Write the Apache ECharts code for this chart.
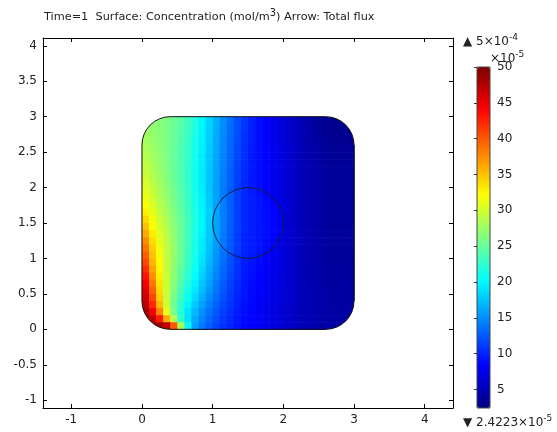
<!DOCTYPE html>
<html>
<head>
<meta charset="utf-8">
<script src="https://cdn.jsdelivr.net/npm/echarts@6/dist/echarts.min.js"></script>
<style>
html, body { margin: 0; padding: 0; background: #fff; }
#main { width: 557px; height: 432px; }
</style>
</head>
<body>
<div id="main"></div>
<script>
// cell centres of the sampled grid (x left->right, y top->bottom)
var xCells = [0.05, 0.15, 0.25, 0.35, 0.45, 0.55, 0.65, 0.75, 0.85, 0.95,
              1.05, 1.15, 1.25, 1.35, 1.45, 1.55, 1.65, 1.75, 1.85, 1.95,
              2.05, 2.15, 2.25, 2.35, 2.45, 2.55, 2.65, 2.75, 2.85, 2.95];
var yCells = [2.95, 2.85, 2.75, 2.65, 2.55, 2.45, 2.35, 2.25, 2.15, 2.05,
              1.95, 1.85, 1.75, 1.65, 1.55, 1.45, 1.35, 1.25, 1.15, 1.05,
              0.95, 0.85, 0.75, 0.65, 0.55, 0.45, 0.35, 0.25, 0.15, 0.05];

// concentration, units of 1e-5 mol/m^3, one row per yCells entry
var conc = [
  [27.0,26.8,26.5,26.0,25.3,24.4,23.2,21.7,20.0,18.3,16.6,15.0,13.5,12.1,10.9, 9.8,9.0,8.3,7.6,6.9,6.2,5.5,4.9,4.3,3.8,3.4,3.2,3.1,3.2,3.4],
  [27.3,27.0,26.6,26.0,25.2,24.3,23.1,21.6,19.9,18.2,16.5,14.9,13.4,12.0,10.8, 9.8,9.0,8.3,7.6,6.9,6.2,5.5,4.9,4.3,3.8,3.4,3.2,3.1,3.2,3.4],
  [27.6,27.2,26.7,26.0,25.2,24.2,23.0,21.5,19.8,18.1,16.4,14.8,13.3,11.9,10.7, 9.7,9.0,8.3,7.6,6.9,6.2,5.6,5.0,4.4,3.9,3.5,3.3,3.2,3.3,3.5],
  [27.9,27.4,26.8,26.0,25.1,24.1,22.9,21.4,19.7,18.0,16.3,14.7,13.2,11.8,10.6, 9.7,9.0,8.3,7.6,6.9,6.3,5.6,5.0,4.5,4.0,3.6,3.4,3.3,3.4,3.5],
  [28.3,27.6,26.9,26.0,25.0,24.0,22.8,21.3,19.6,17.9,16.2,14.6,13.1,11.7,10.5, 9.6,8.9,8.3,7.6,7.0,6.3,5.7,5.1,4.6,4.1,3.7,3.5,3.4,3.5,3.6],
  [28.6,27.8,27.0,26.0,25.0,23.9,22.7,21.2,19.5,17.8,16.1,14.5,13.0,11.6,10.5, 9.6,8.9,8.3,7.7,7.0,6.4,5.7,5.1,4.6,4.2,3.8,3.6,3.5,3.5,3.7],
  [29.0,28.1,27.1,26.1,25.0,23.9,22.6,21.1,19.5,17.8,16.1,14.5,12.9,11.5,10.4, 9.5,8.9,8.3,7.7,7.1,6.4,5.8,5.2,4.7,4.3,3.9,3.7,3.6,3.6,3.7],
  [29.4,28.4,27.3,26.2,25.1,23.9,22.6,21.1,19.4,17.7,16.0,14.4,12.8,11.4,10.3, 9.5,8.9,8.3,7.7,7.1,6.4,5.8,5.2,4.7,4.3,4.0,3.8,3.7,3.7,3.8],
  [29.8,28.7,27.5,26.4,25.2,24.0,22.6,21.1,19.4,17.7,16.0,14.3,12.8,11.4,10.3, 9.5,8.9,8.3,7.7,7.1,6.4,5.8,5.2,4.7,4.3,4.0,3.8,3.7,3.7,3.8],
  [30.3,29.1,27.8,26.6,25.4,24.1,22.7,21.1,19.4,17.7,15.9,14.2,12.7,11.3,10.2, 9.5,8.9,8.3,7.7,7.1,6.4,5.8,5.2,4.7,4.3,4.0,3.8,3.7,3.7,3.8],
  [30.8,29.5,28.1,26.9,25.6,24.2,22.8,21.2,19.5,17.7,15.9,14.2,12.7,11.3,10.2, 9.6,9.1,8.3,7.7,7.1,6.4,5.8,5.2,4.7,4.3,4.0,3.8,3.7,3.7,3.8],
  [31.4,29.9,28.5,27.1,25.8,24.4,22.9,21.3,19.6,17.8,16.0,14.2,12.7,11.3,10.2, 9.7,9.2,8.7,7.7,7.1,6.4,5.8,5.2,4.7,4.3,4.0,3.8,3.7,3.7,3.8],
  [32.1,30.4,28.9,27.4,26.0,24.6,23.1,21.4,19.7,17.9,16.0,14.3,12.7,11.3,10.2, 9.7,9.3,8.8,8.4,7.2,6.5,5.8,5.2,4.7,4.3,4.0,3.8,3.7,3.7,3.8],
  [32.9,31.0,29.3,27.8,26.3,24.8,23.2,21.6,19.8,18.0,16.1,14.3,12.7,11.3,10.2, 9.7,9.3,8.9,8.5,8.1,6.5,5.8,5.2,4.7,4.3,4.0,3.8,3.7,3.7,3.8],
  [33.8,31.6,29.8,28.1,26.6,25.0,23.4,21.7,19.9,18.0,16.1,14.3,12.7,11.3,10.2, 9.7,9.3,8.9,8.5,8.1,6.5,5.8,5.2,4.7,4.3,4.0,3.8,3.7,3.7,3.8],
  [35.0,32.3,30.3,28.5,26.7,25.0,23.3,21.6,19.8,17.9,16.0,14.3,12.7,11.3,10.2, 9.7,9.3,8.9,8.5,8.1,6.5,5.8,5.2,4.7,4.3,4.0,3.8,3.7,3.7,3.8],
  [36.2,33.0,30.7,28.8,26.9,25.1,23.3,21.5,19.7,17.8,15.9,14.2,12.6,11.2,10.1, 9.7,9.3,8.9,8.5,8.1,6.5,5.8,5.2,4.7,4.3,4.0,3.8,3.7,3.7,3.8],
  [37.5,33.7,31.1,29.0,27.1,25.2,23.3,21.4,19.5,17.6,15.7,14.0,12.5,11.1,10.1, 9.7,9.3,8.8,8.4,7.2,6.5,5.8,5.2,4.7,4.3,4.0,3.8,3.7,3.7,3.8],
  [38.7,34.4,31.5,29.2,27.2,25.2,23.2,21.3,19.4,17.4,15.5,13.8,12.4,11.0,10.0, 9.7,9.2,8.7,7.7,7.1,6.4,5.8,5.2,4.7,4.3,4.0,3.8,3.7,3.7,3.8],
  [39.8,35.0,31.8,29.3,27.2,25.1,23.1,21.1,19.2,17.2,15.3,13.7,12.2,10.9, 9.9, 9.6,9.1,8.3,7.7,7.1,6.4,5.8,5.2,4.7,4.3,4.0,3.8,3.7,3.7,3.8],
  [40.8,35.6,32.0,29.4,27.1,25.0,23.0,21.0,19.0,17.0,15.1,13.5,12.0,10.8, 9.7, 9.2,8.7,8.2,7.6,7.0,6.4,5.8,5.2,4.7,4.3,4.0,3.8,3.7,3.7,3.8],
  [42.0,36.4,32.4,29.5,27.0,24.7,22.6,20.6,18.6,16.6,14.8,13.2,11.8,10.6, 9.6, 9.1,8.6,8.1,7.6,7.0,6.4,5.8,5.2,4.8,4.4,4.1,3.9,3.8,3.8,3.9],
  [43.2,37.3,32.8,29.5,26.8,24.4,22.2,20.2,18.2,16.3,14.5,13.0,11.6,10.5, 9.5, 9.0,8.5,8.0,7.5,6.9,6.3,5.8,5.2,4.8,4.4,4.1,3.9,3.8,3.8,3.9],
  [44.3,38.4,33.3,29.6,26.6,24.0,21.8,19.7,17.7,15.9,14.2,12.7,11.4,10.3, 9.4, 8.9,8.4,7.9,7.4,6.9,6.3,5.8,5.3,4.8,4.5,4.2,4.0,3.9,3.9,4.0],
  [45.3,39.6,33.8,29.6,26.3,23.6,21.3,19.2,17.2,15.4,13.8,12.4,11.2,10.2, 9.3, 8.8,8.3,7.8,7.3,6.8,6.2,5.7,5.3,4.9,4.5,4.2,4.0,3.9,3.9,4.0],
  [46.3,40.8,34.3,29.5,25.9,23.1,20.7,18.6,16.6,14.9,13.4,12.1,11.0,10.0, 9.2, 8.7,8.2,7.7,7.2,6.7,6.2,5.7,5.3,4.9,4.6,4.3,4.1,4.0,4.0,4.1],
  [47.3,42.3,35.5,29.8,25.5,22.4,19.9,17.8,15.9,14.3,12.9,11.7,10.7, 9.8, 9.0, 8.6,8.1,7.6,7.1,6.6,6.1,5.6,5.2,4.9,4.6,4.3,4.1,4.0,4.0,4.1],
  [48.3,44.5,38.0,31.0,25.8,22.0,19.2,17.0,15.2,13.7,12.4,11.3,10.4, 9.6, 8.9, 8.5,8.0,7.5,7.1,6.6,6.1,5.6,5.2,4.9,4.6,4.3,4.1,4.0,4.1,4.2],
  [49.0,47.0,43.0,36.0,28.5,22.5,18.8,16.4,14.6,13.2,12.0,11.0,10.2, 9.4, 8.8, 8.4,8.0,7.5,7.0,6.6,6.1,5.6,5.2,4.9,4.6,4.3,4.1,4.1,4.1,4.2],
  [49.5,49.0,48.5,47.0,40.0,28.0,20.0,16.0,14.0,12.7,11.6,10.7,10.0, 9.3, 8.7, 8.3,7.9,7.4,7.0,6.5,6.0,5.6,5.2,4.9,4.6,4.3,4.2,4.1,4.1,4.2]
];

var xTicks = [-1, 0, 1, 2, 3, 4];
var yTicks = [-1, -0.5, 0, 0.5, 1, 1.5, 2, 2.5, 3, 3.5, 4];
var barTicks = [5, 10, 15, 20, 25, 30, 35, 40, 45, 50];
var cMin = 2.4223, cMax = 50;

// geometry: rounded square [x0, y0, x1, y1, corner r] and the circle [cx, cy, r]
var domain = [[0, 0, 3, 3, 0.4]];
var hole = [[1.5, 1.5, 0.5]];

var jet = ['#000080', '#0000ff', '#0080ff', '#00ffff', '#80ff80',
           '#ffff00', '#ff8000', '#ff0000', '#800000'];

var cells = [];
for (var i = 0; i < yCells.length; i++) {
  for (var j = 0; j < xCells.length; j++) {
    cells.push([xCells[j], yCells[i], conc[i][j]]);
  }
}
var half = (xCells[1] - xCells[0]) / 2;

var FONT = 'DejaVu Sans';
var axisCol = '#000';
var labelCol = '#222';

function frameAxis(pos, min, max, ticks, showLabel) {
  return {
    type: 'value', gridIndex: 0, position: pos, min: min, max: max,
    axisLine: { onZero: false, lineStyle: { color: axisCol, width: 1 } },
    axisTick: { inside: true, length: 4, customValues: ticks, lineStyle: { color: axisCol } },
    axisLabel: { show: showLabel, customValues: ticks, color: labelCol, fontSize: 12,
                 fontFamily: FONT, margin: 6 },
    splitLine: { show: false }
  };
}

function supText(main, sup) {
  return {
    text: '{a|' + main + '}{s|' + sup + '}', fill: labelCol,
    rich: { a: { fontSize: 12, fontFamily: FONT, fill: labelCol },
            s: { fontSize: 9, fontFamily: FONT, fill: labelCol, padding: [0, 0, 8, 0] } }
  };
}

var myChart = echarts.init(document.getElementById('main'));

var option = {
  backgroundColor: '#fff',
  animation: false,
  title: {
    text: 'Time=1  Surface: Concentration (mol/m{s|3}) Arrow: Total flux',
    left: 39, top: 3,
    textStyle: {
      fontSize: 11.3, fontWeight: 'normal', color: labelCol, fontFamily: FONT,
      rich: { s: { fontSize: 10, fontFamily: FONT, color: labelCol, padding: [0, 0, 9, 0] } }
    }
  },
  grid: [
    { left: 43, top: 38, width: 410, height: 370 },
    { left: 477, top: 67, width: 13, height: 341, show: true, z: 10,
      borderColor: '#444', borderWidth: 1, backgroundColor: 'transparent' }
  ],
  xAxis: [
    frameAxis('bottom', -1.4, 4.4, xTicks, true),
    frameAxis('top', -1.4, 4.4, xTicks, false),
    { type: 'value', gridIndex: 1, min: 0, max: 1, show: false }
  ],
  yAxis: [
    frameAxis('left', -1.11, 4.11, yTicks, true),
    frameAxis('right', -1.11, 4.11, yTicks, false),
    {
      type: 'value', gridIndex: 1, position: 'right', min: cMin, max: cMax, z: 11,
      axisLine: { show: false },
      axisTick: { inside: true, length: 3, customValues: barTicks, lineStyle: { color: '#333' } },
      axisLabel: { customValues: barTicks, color: labelCol, fontSize: 12, fontFamily: FONT, margin: 7 },
      splitLine: { show: false }
    }
  ],
  visualMap: {
    type: 'continuous', seriesIndex: 0, dimension: 2,
    min: cMin, max: cMax, calculable: false, hoverLink: false,
    orient: 'vertical', left: 477, top: 67, padding: 0,
    itemWidth: 13, itemHeight: 341,
    inRange: { color: jet }
  },
  graphic: [
    { type: 'text', left: 463, top: 33, style: supText('▲ 5×10', '-4') },
    { type: 'text', left: 490, top: 50, style: supText('×10', '-5') },
    { type: 'text', left: 463, top: 414, style: supText('▼ 2.4223×10', '-5') }
  ],
  series: [
    {
      // concentration surface
      type: 'custom', xAxisIndex: 0, yAxisIndex: 0, z: 2,
      data: cells,
      renderItem: function (params, api) {
        var x = api.value(0), y = api.value(1);
        var p0 = api.coord([x - half, y + half]);
        var p1 = api.coord([x + half, y - half]);
        return {
          type: 'rect',
          shape: { x: p0[0], y: p0[1], width: p1[0] - p0[0] + 0.6, height: p1[1] - p0[1] + 0.6 },
          style: { fill: api.visual('color') }
        };
      }
    },
    {
      // white masks outside the rounded corners + domain outline
      type: 'custom', xAxisIndex: 0, yAxisIndex: 0, z: 3, silent: true,
      data: domain,
      renderItem: function (params, api) {
        var tl = api.coord([api.value(0), api.value(3)]);
        var br = api.coord([api.value(2), api.value(1)]);
        var rr = api.size([api.value(4), api.value(4)]);
        var rx = rr[0], ry = rr[1];
        var L = tl[0], T = tl[1], R = br[0], B = br[1];
        var e = 1;
        var masks = [
          'M' + (L - e) + ' ' + (T - e) + ' L' + (L + rx) + ' ' + (T - e) + ' L' + (L + rx) + ' ' + T +
            ' A' + rx + ' ' + ry + ' 0 0 0 ' + L + ' ' + (T + ry) + ' L' + (L - e) + ' ' + (T + ry) + ' Z',
          'M' + (R + e) + ' ' + (T - e) + ' L' + (R - rx) + ' ' + (T - e) + ' L' + (R - rx) + ' ' + T +
            ' A' + rx + ' ' + ry + ' 0 0 1 ' + R + ' ' + (T + ry) + ' L' + (R + e) + ' ' + (T + ry) + ' Z',
          'M' + (L - e) + ' ' + (B + e) + ' L' + (L + rx) + ' ' + (B + e) + ' L' + (L + rx) + ' ' + B +
            ' A' + rx + ' ' + ry + ' 0 0 1 ' + L + ' ' + (B - ry) + ' L' + (L - e) + ' ' + (B - ry) + ' Z',
          'M' + (R + e) + ' ' + (B + e) + ' L' + (R - rx) + ' ' + (B + e) + ' L' + (R - rx) + ' ' + B +
            ' A' + rx + ' ' + ry + ' 0 0 0 ' + R + ' ' + (B - ry) + ' L' + (R + e) + ' ' + (B - ry) + ' Z'
        ];
        var children = masks.map(function (d) {
          return { type: 'path', shape: { pathData: d }, style: { fill: '#fff', stroke: null } };
        });
        children.push({
          type: 'rect',
          shape: { x: L, y: T, width: R - L, height: B - T, r: rx },
          style: { fill: null, stroke: '#111', lineWidth: 1 }
        });
        return { type: 'group', children: children };
      }
    },
    {
      // inner circle boundary
      type: 'custom', xAxisIndex: 0, yAxisIndex: 0, z: 4, silent: true,
      data: hole,
      renderItem: function (params, api) {
        var c = api.coord([api.value(0), api.value(1)]);
        var r = api.size([api.value(2), 0])[0];
        return {
          type: 'circle',
          shape: { cx: c[0], cy: c[1], r: r },
          style: { fill: null, stroke: '#1a1a3a', lineWidth: 1 }
        };
      }
    }
  ]
};

myChart.setOption(option);
</script>
</body>
</html>
